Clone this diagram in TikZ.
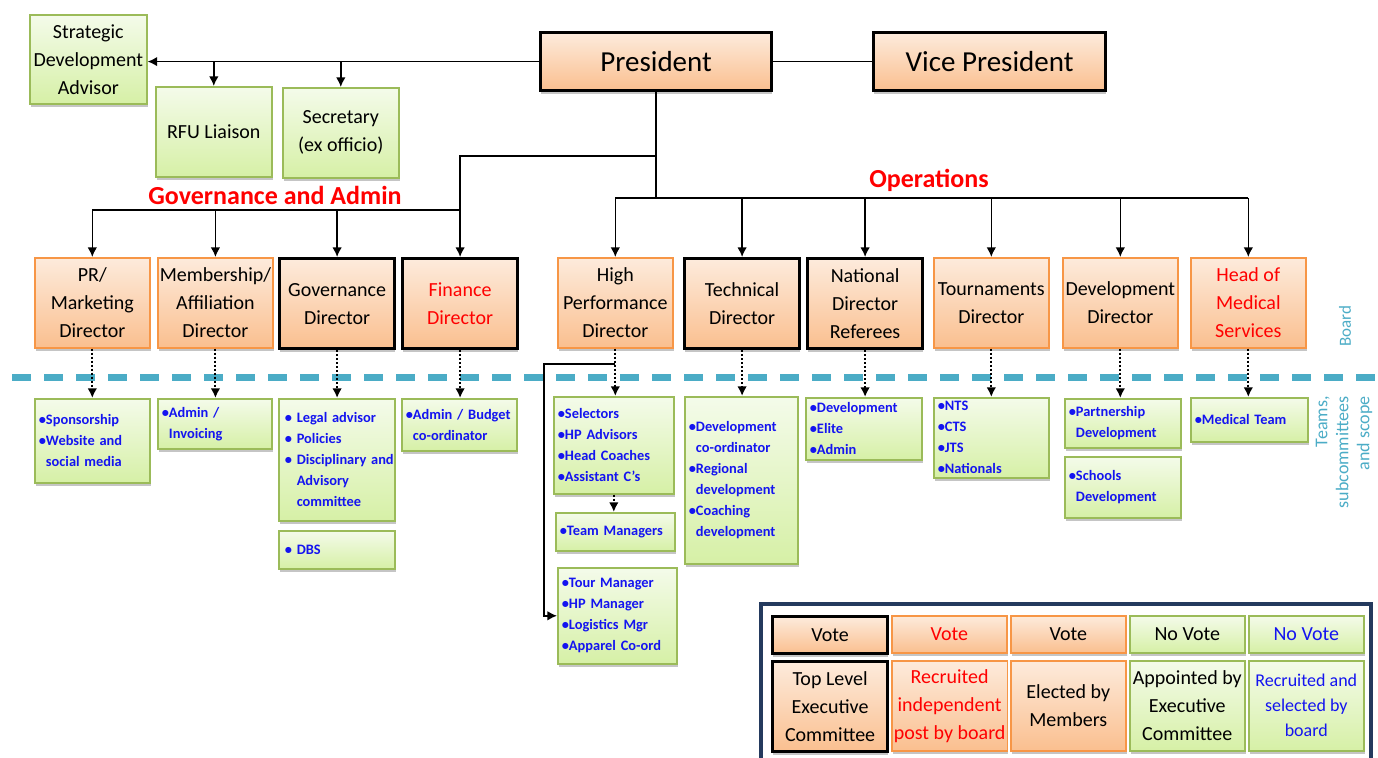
\documentclass[tikz,border=0pt]{standalone}
\usepackage{fontspec}
\setmainfont{Carlito}
\usetikzlibrary{arrows.meta, positioning, shadows}

\definecolor{orTop}{HTML}{FDEBDC}
\definecolor{orBot}{HTML}{FABF8F}
\definecolor{orLine}{HTML}{F79646}
\definecolor{grTop}{HTML}{F4FBEA}
\definecolor{grBot}{HTML}{D6F0A6}
\definecolor{grLine}{HTML}{9BBB59}
\definecolor{subBlue}{HTML}{1414F0}
\definecolor{boardBlue}{HTML}{4BACC6}
\definecolor{legNavy}{HTML}{243A5E}
\definecolor{headRed}{HTML}{FF0000}

\tikzset{box/.style={rectangle, anchor=north west, align=center, inner sep=1pt, drop shadow={shadow xshift=0.4pt, shadow yshift=-1.6pt, fill=black!45, opacity=0.5}}}
\tikzset{orbox/.style={box, draw=orLine, line width=0.8pt, top color=orTop, bottom color=orBot, minimum width=57.5pt, minimum height=45pt, font=\fontsize{10}{14}\selectfont}}
\tikzset{execbox/.style={orbox, draw=black, line width=1.6pt}}
\tikzset{grbox/.style={box, draw=grLine, line width=0.8pt, top color=grTop, bottom color=grBot, minimum width=58pt, minimum height=45pt, font=\fontsize{10}{14}\selectfont}}
\tikzset{subbox/.style={grbox, align=left, minimum width=0pt, inner xsep=2pt, text=subBlue, font=\fontsize{7.2}{10.5}\selectfont\bfseries}}
\tikzset{feed/.style={->, line width=0.8pt}}
\tikzset{dotfeed/.style={->, line width=1pt, densely dotted}}
\tikzset{head/.style={text=headRed, font=\fontsize{13}{15}\selectfont\bfseries}}
\tikzset{boardline/.style={boardBlue, line width=3.5pt, dash pattern=on 9.5pt off 6.5pt}}

\begin{document}
\begin{tikzpicture}[x=0.5pt, y=-0.5pt, >={Latex[length=4.8pt, width=4.8pt]}]
                        \useasboundingbox (0,0) rectangle (1378,758);
                        \clip (0,0) rectangle (1378,758);

                        \draw[boardline] (12,378) -- (1378,378);

                        \node[grbox, minimum width=58.5pt, minimum height=44.5pt] (sda) at (29,14) {Strategic\\Development\\Advisor};
                        \node[grbox] (rfu) at (155,86) {RFU Liaison};
                        \node[grbox] (sec) at (282,87) {Secretary\\(ex officio)};

                        \node[execbox, minimum width=115.5pt, minimum height=29pt, font=\fontsize{14.5}{16}\selectfont] (pres) at (539,31) {President};
                        \node[execbox, minimum width=116pt, minimum height=29pt, font=\fontsize{14.5}{16}\selectfont] (vp) at (872,31) {Vice President};

                        \node[orbox] (pr) at (34,257) {PR/\\Marketing\\Director};
                        \node[orbox] (mem) at (157,257) {Membership/\\Affiliation\\Director};
                        \node[execbox] (gov) at (278,257) {Governance\\Director};
                        \node[execbox, text=headRed] (fin) at (401,257) {Finance\\Director};
                        \node[orbox] (hp) at (557,257) {High\\Performance\\Director};
                        \node[execbox] (tech) at (683,257) {Technical\\Director};
                        \node[execbox] (nat) at (806,257) {National\\Director\\Referees};
                        \node[orbox] (tourn) at (933,257) {Tournaments\\Director};
                        \node[orbox] (dev) at (1062,257) {Development\\Director};
                        \node[orbox, text=headRed] (med) at (1190,257) {Head of\\Medical\\Services};

                        \node[subbox, text width=53.5pt, minimum height=42pt] (prsub) at (34,398) {•Sponsorship\\•Website and\\\hphantom{•}social media};
                        \node[subbox, text width=53pt, minimum height=25pt] (memsub) at (157,398) {•Admin /\\\hphantom{•}Invoicing};
                        \node[subbox, text width=56pt, inner xsep=1pt, minimum height=61pt] (govsub) at (278,398) {\hspace{2pt}• Legal advisor\\\hspace{2pt}• Policies\\\mbox{\hspace{2pt}• Disciplinary and}\\\hspace{2pt}\hphantom{• }Advisory\\\hspace{2pt}\hphantom{• }committee};
                        \node[subbox, text width=56pt, inner xsep=1pt, minimum height=19pt] (dbs) at (278,530) {\hspace{2pt}• DBS};
                        \node[subbox, text width=53.5pt, minimum height=26pt] (finsub) at (401,398) {\mbox{•Admin / Budget}\\\hphantom{•}co-ordinator};
                        \node[subbox, text width=56pt, minimum height=48.5pt] (hpsub) at (553,396) {•Selectors\\•HP Advisors\\•Head Coaches\\•Assistant C’s};
                        \node[subbox, text width=55.5pt, minimum height=19pt] (team) at (555,512) {•Team Managers};
                        \node[subbox, text width=55.5pt, minimum height=48pt] (tourmgr) at (557,567) {•Tour Manager\\•HP Manager\\•Logistics Mgr\\•Apparel Co-ord};
                        \node[subbox, text width=52.5pt, minimum height=83.5pt] (techsub) at (684,396) {•Development\\\hphantom{•}co-ordinator\\•Regional\\\hphantom{•}development\\•Coaching\\\hphantom{•}development};
                        \node[subbox, text width=54pt, minimum height=31pt] (natsub) at (805,397) {•Development\\•Elite\\•Admin};
                        \node[subbox, text width=53.5pt, minimum height=40pt] (tournsub) at (933,397) {•NTS\\•CTS\\•JTS\\•Nationals};
                        \node[subbox, text width=54pt, minimum height=24.5pt] (partsub) at (1064,398) {•Partnership\\\hphantom{•}Development};
                        \node[subbox, text width=54pt, minimum height=30.5pt] (schools) at (1064,456) {•Schools\\\hphantom{•}Development};
                        \node[subbox, text width=54.5pt, minimum height=22pt] (medsub) at (1190,397) {•Medical Team};

                        \node[head] (govlabel) at (275,195) {Governance and Admin};
                        \node[head] (opslabel) at (929,180) {Operations};

                        \node[rotate=90, text=boardBlue, font=\fontsize{8.5}{10}\selectfont] (board) at (1345,326) {Board};
                        \node[rotate=90, anchor=east, align=right, inner sep=0pt, text=boardBlue, font=\fontsize{9}{10.5}\selectfont] (teams) at (1344,396) {Teams,\\subcommittees\\and scope};

                        \coordinate (govjoin) at (0,156);
                        \coordinate (govbar) at (0,210);
                        \coordinate (opsbar) at (0,198);
                        \coordinate (hpfork) at (0,364);
                        \coordinate (hpleft) at (544,364);

                        \draw[line width=0.6pt] (pres.east) -- (vp.west);
                        \draw[feed] (pres.west) -- (pres.west -| sda.east);
                        \draw
                        (pres.west -| rfu.north) edge[feed] (rfu.north)
                        (pres.west -| sec.north) edge[feed] (sec.north);

                        \draw[line width=0.8pt] (pres.south) -- (pres.south |- opsbar);
                        \draw[feed] (pres.south |- govjoin) -| (fin.north);
                        \draw[line width=0.8pt] (govbar -| pr.north) -- (govbar -| fin.north);
                        \draw
                        (govbar -| pr.north) edge[feed] (pr.north)
                        (govbar -| mem.north) edge[feed] (mem.north)
                        (govbar -| gov.north) edge[feed] (gov.north);

                        \draw[line width=0.8pt] (opsbar -| hp.north) -- (opsbar -| med.north);
                        \draw
                        (opsbar -| hp.north) edge[feed] (hp.north)
                        (opsbar -| tech.north) edge[feed] (tech.north)
                        (opsbar -| nat.north) edge[feed] (nat.north)
                        (opsbar -| tourn.north) edge[feed] (tourn.north)
                        (opsbar -| dev.north) edge[feed] (dev.north)
                        (opsbar -| med.north) edge[feed] (med.north);

                        \draw
                        (pr.south) edge[dotfeed] (pr.south |- prsub.north)
                        (mem.south) edge[dotfeed] (mem.south |- memsub.north)
                        (gov.south) edge[dotfeed] (gov.south |- govsub.north)
                        (fin.south) edge[dotfeed] (fin.south |- finsub.north)
                        (hp.south) edge[dotfeed] (hp.south |- hpsub.north)
                        (hpsub.south) edge[dotfeed] (hpsub.south |- team.north)
                        (tech.south) edge[dotfeed] (tech.south |- techsub.north)
                        (nat.south) edge[dotfeed] (nat.south |- natsub.north)
                        (tourn.south) edge[dotfeed] (tourn.south |- tournsub.north)
                        (dev.south) edge[dotfeed] (dev.south |- partsub.north)
                        (med.south) edge[dotfeed] (med.south |- medsub.north);
                        \draw[feed] (hp.south |- hpfork) -- (hpleft) |- (tourmgr.west);

                        \draw[legNavy, line width=1.6pt] (761,604) rectangle (1371,766);

                        \node[execbox, minimum height=18.5pt] (voteA) at (771,615) {Vote};
                        \node[orbox, minimum height=18.5pt, text=headRed] (voteB) at (891,615) {Vote};
                        \node[orbox, minimum height=18.5pt] (voteC) at (1010,615) {Vote};
                        \node[grbox, minimum width=57.5pt, minimum height=18.5pt] (voteD) at (1129,615) {No Vote};
                        \node[grbox, minimum width=57.5pt, minimum height=18.5pt, text=subBlue] (voteE) at (1248,615) {No Vote};

                        \node[execbox] (keyA) at (771,660) {Top Level\\Executive\\Committee};
                        \node[orbox, text=headRed] (keyB) at (891,660) {Recruited\\independent\\post by board};
                        \node[orbox] (keyC) at (1010,660) {Elected by\\Members};
                        \node[grbox, minimum width=57.5pt] (keyD) at (1129,660) {Appointed by\\Executive\\Committee};
                        \node[grbox, minimum width=57.5pt, text=subBlue, font=\fontsize{9}{12.5}\selectfont] (keyE) at (1248,660) {Recruited and\\selected by\\board};
                    \end{tikzpicture}
\end{document}
